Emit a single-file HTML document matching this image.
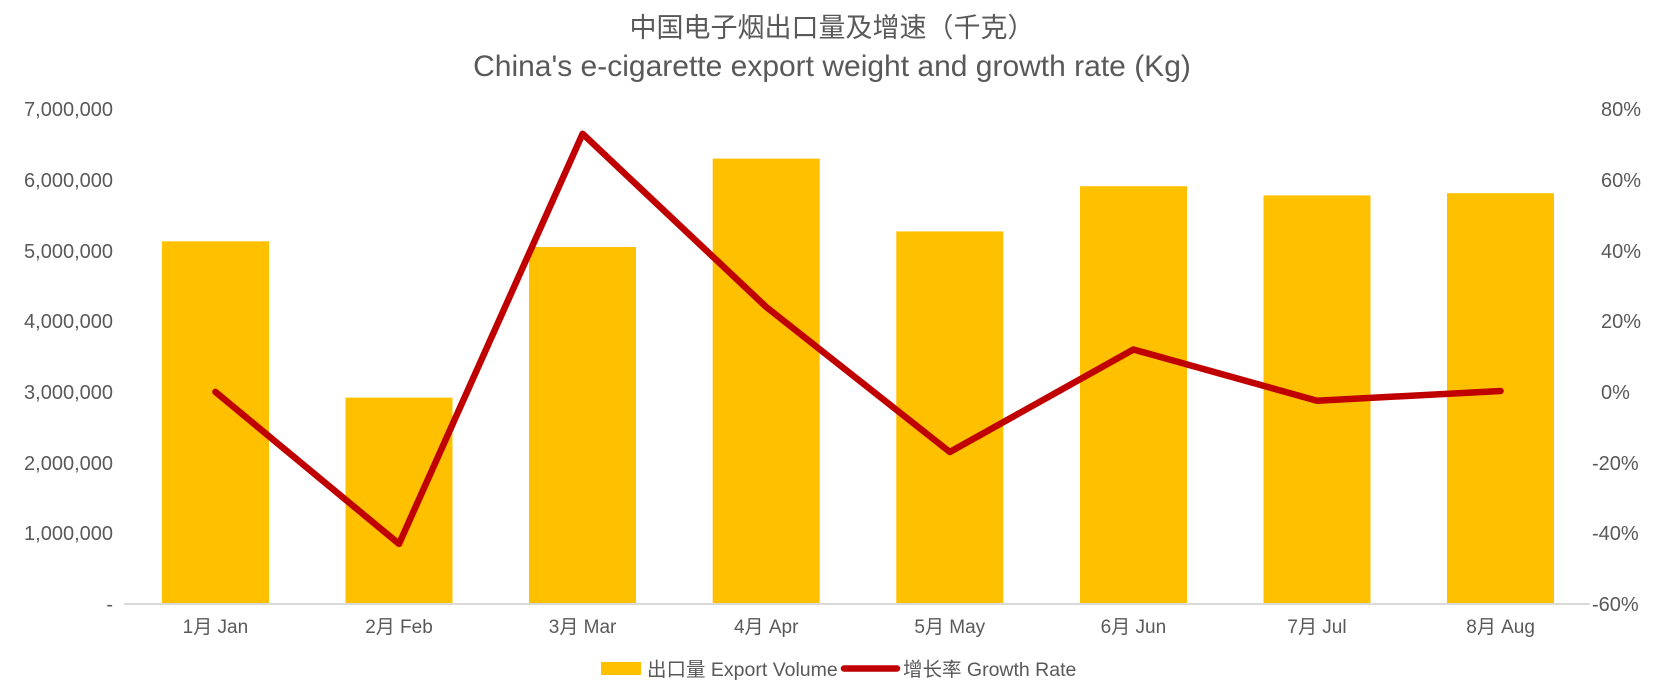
<!DOCTYPE html>
<html><head><meta charset="utf-8"><style>
html,body{margin:0;padding:0;background:#fff;}
svg{display:block;font-family:"Liberation Sans","Noto Sans CJK SC",sans-serif;}
</style></head><body>
<svg width="1664" height="697" viewBox="0 0 1664 697" xmlns="http://www.w3.org/2000/svg">
<text x="832" y="37" text-anchor="middle" font-size="27" fill="#595959">中国电子烟出口量及增速（千克）</text>
<text x="832" y="76" text-anchor="middle" font-size="30" fill="#595959">China's e-cigarette export weight and growth rate (Kg)</text>
<g font-size="20" fill="#595959" text-anchor="end">
<text x="113" y="116">7,000,000</text>
<text x="113" y="187">6,000,000</text>
<text x="113" y="258">5,000,000</text>
<text x="113" y="328">4,000,000</text>
<text x="113" y="399">3,000,000</text>
<text x="113" y="470">2,000,000</text>
<text x="113" y="540">1,000,000</text>
<text x="113" y="611">-</text>
</g>
<g font-size="20" fill="#595959">
<text x="1601" y="116">80%</text>
<text x="1601" y="187">60%</text>
<text x="1601" y="258">40%</text>
<text x="1601" y="328">20%</text>
<text x="1601" y="399">0%</text>
<text x="1592" y="470">-20%</text>
<text x="1592" y="540">-40%</text>
<text x="1592" y="611">-60%</text>
</g>
<g fill="#FFC000">
<rect x="162" y="241.3" width="107" height="362.7"/>
<rect x="345.5" y="397.6" width="107" height="206.4"/>
<rect x="529" y="247" width="107" height="357"/>
<rect x="712.7" y="158.6" width="107" height="445.4"/>
<rect x="896.3" y="231.4" width="107" height="372.6"/>
<rect x="1080" y="186.2" width="107" height="417.8"/>
<rect x="1263.5" y="195.4" width="107" height="408.6"/>
<rect x="1447" y="193.2" width="107" height="410.8"/>
</g>
<line x1="124" y1="604" x2="1590" y2="604" stroke="#d9d9d9" stroke-width="2"/>
<polyline points="215.4,391.9 399,543.9 582.6,133.8 766.2,307 949.8,452 1133.4,349.5 1317,400.7 1500.6,391" fill="none" stroke="#C00000" stroke-width="6.5" stroke-linejoin="round" stroke-linecap="round"/>
<g font-size="19" fill="#595959" text-anchor="middle">
<text x="215.4" y="633">1月 Jan</text>
<text x="399" y="633">2月 Feb</text>
<text x="582.6" y="633">3月 Mar</text>
<text x="766.2" y="633">4月 Apr</text>
<text x="949.8" y="633">5月 May</text>
<text x="1133.4" y="633">6月 Jun</text>
<text x="1317" y="633">7月 Jul</text>
<text x="1500.6" y="633">8月 Aug</text>
</g>
<rect x="601" y="662" width="40" height="13" fill="#FFC000"/>
<text x="647" y="676" font-size="19.5" fill="#595959">出口量 Export Volume</text>
<line x1="844" y1="668.5" x2="897" y2="668.5" stroke="#C00000" stroke-width="6.5" stroke-linecap="round"/>
<text x="903" y="676" font-size="19.5" fill="#595959">增长率 Growth Rate</text>
</svg>
</body></html>
